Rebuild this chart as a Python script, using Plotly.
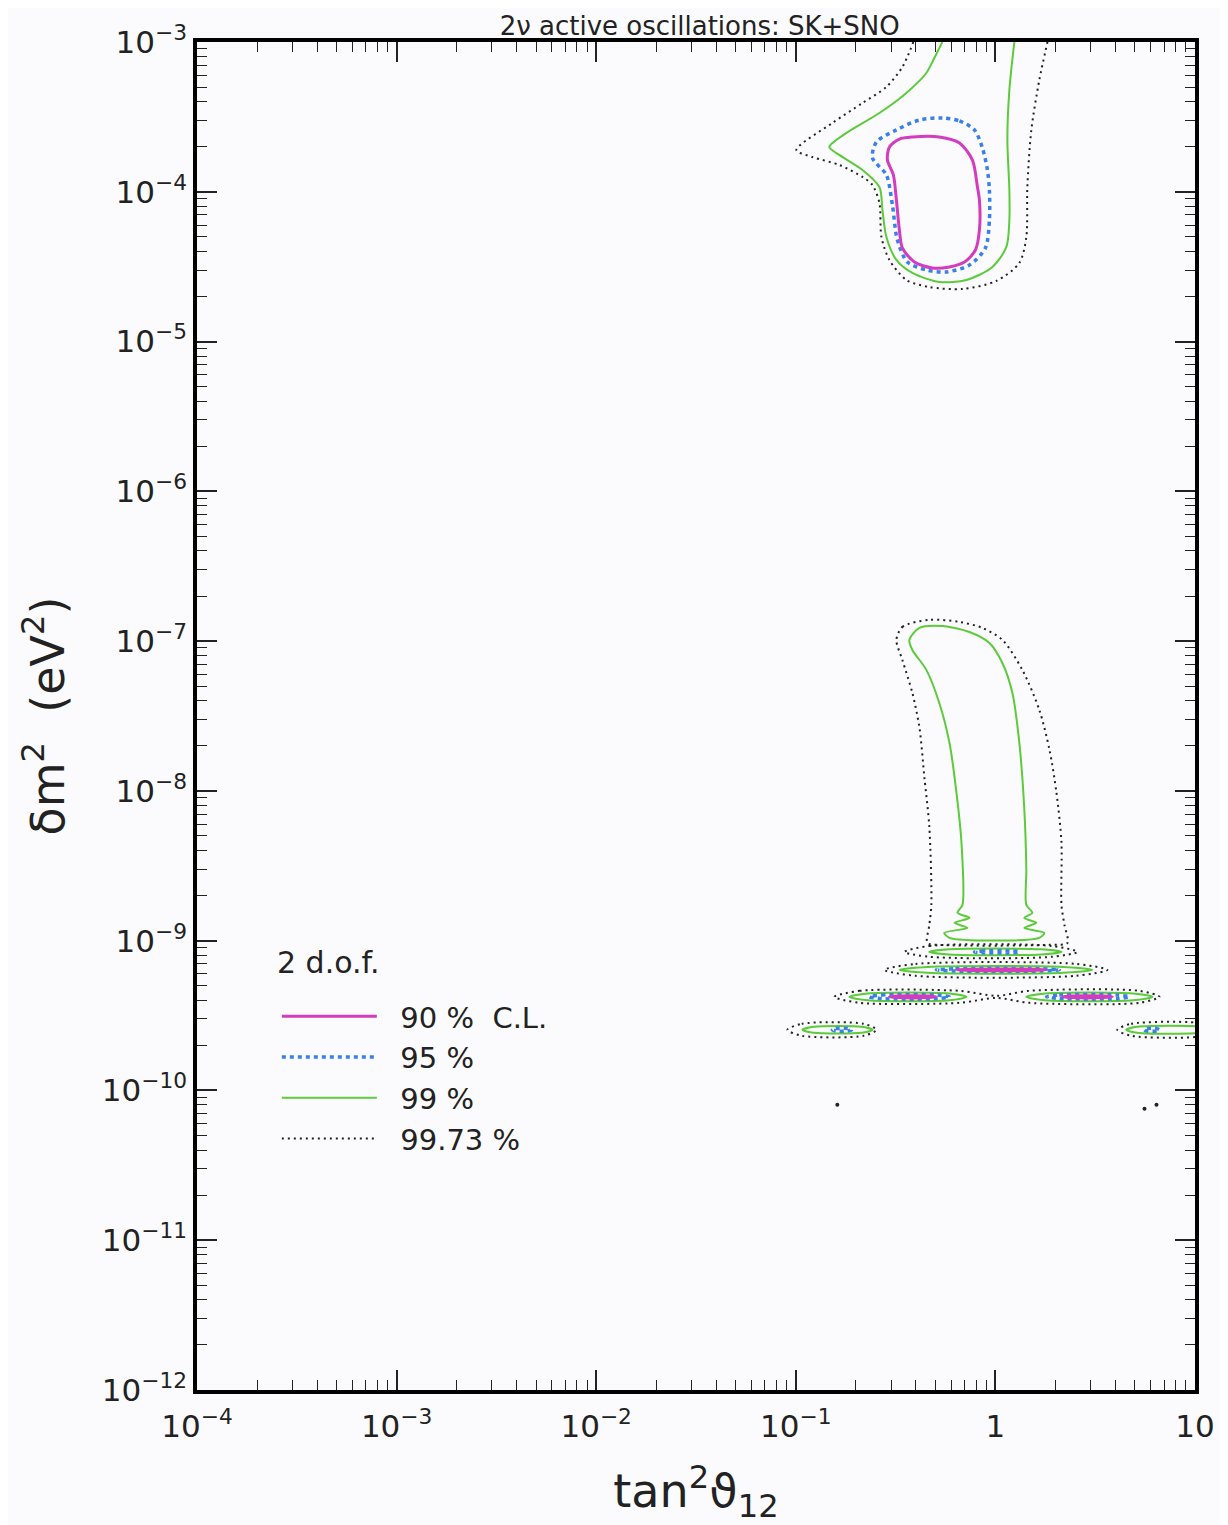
import numpy as np
import plotly.graph_objects as go

# ---------------- data (log10 values) ----------------
# upper (LMA) region
up90_ltan = [-0.281, -0.180, -0.115, -0.090, -0.080, -0.080, -0.100, -0.155, -0.230, -0.316,
             -0.406, -0.466, -0.481, -0.496, -0.511, -0.541, -0.531, -0.481, -0.416, -0.281]
up90_ldm = [-3.634, -3.674, -3.788, -3.968, -4.055, -4.255, -4.389, -4.469, -4.502, -4.509,
            -4.469, -4.375, -4.255, -4.055, -3.888, -3.788, -3.701, -3.648, -3.634, -3.634]

up95_ltan = [-0.266, -0.180, -0.105, -0.065, -0.040, -0.030, -0.030, -0.050, -0.130, -0.245,
             -0.346, -0.441, -0.491, -0.516, -0.546, -0.616, -0.596, -0.496, -0.381, -0.266]
up95_ldm = [-3.507, -3.527, -3.587, -3.708, -3.854, -3.988, -4.188, -4.375, -4.489, -4.535,
            -4.522, -4.469, -4.322, -4.088, -3.888, -3.774, -3.668, -3.587, -3.521, -3.507]

up99_ltan = [-0.266, -0.306, -0.346, -0.446, -0.581, -0.746, -0.832, -0.782, -0.666, -0.581,
             -0.566, -0.546, -0.496, -0.416, -0.281, -0.145, -0.015, 0.055, 0.070, 0.070,
             0.060, 0.070, 0.095]
up99_ldm = [-3.000, -3.107, -3.207, -3.340, -3.474, -3.607, -3.701, -3.754, -3.854, -3.968,
            -4.121, -4.302, -4.455, -4.542, -4.602, -4.589, -4.502, -4.368, -4.188, -3.988,
            -3.654, -3.320, -3.000]

up9973_ltan = [-0.411, -0.466, -0.546, -0.666, -0.817, -0.997, -0.917, -0.782, -0.666, -0.616,
               -0.581, -0.571, -0.531, -0.446, -0.331, -0.165, 0.005, 0.120, 0.155, 0.160,
               0.180, 0.220, 0.261]
up9973_ldm = [-3.000, -3.167, -3.300, -3.407, -3.541, -3.721, -3.768, -3.821, -3.901, -3.955,
              -4.075, -4.302, -4.455, -4.589, -4.636, -4.649, -4.595, -4.475, -4.302, -3.968,
              -3.587, -3.254, -3.000]

# lower (LOW / quasi-vacuum) region, tall contours
low99_ltan = [-0.431, -0.381, -0.266, -0.130, -0.030, 0.035, 0.085, 0.120, 0.145, 0.155,
              0.155, 0.185, 0.145, 0.205, 0.145, 0.245, 0.220, -0.230, -0.256, -0.140,
              -0.205, -0.130, -0.190, -0.165, -0.170, -0.195, -0.230, -0.281, -0.346, -0.416,
              -0.431]
low99_ldm = [-6.992, -6.912, -6.899, -6.939, -7.012, -7.146, -7.346, -7.680, -8.127, -8.527,
             -8.761, -8.814, -8.848, -8.881, -8.915, -8.948, -8.981, -8.981, -8.948, -8.915,
             -8.881, -8.848, -8.814, -8.761, -8.347, -8.013, -7.680, -7.413, -7.192, -7.059,
             -6.992]

low9973_ltan = [-0.496, -0.466, -0.331, -0.180, -0.065, 0.035, 0.135, 0.220, 0.271, 0.306,
                0.331, 0.331, 0.346, 0.361, 0.271, -0.281, -0.341, -0.331, -0.321, -0.331,
                -0.356, -0.381, -0.416, -0.466, -0.496]
low9973_ldm = [-6.992, -6.905, -6.858, -6.872, -6.912, -6.992, -7.192, -7.459, -7.726, -8.013,
               -8.347, -8.761, -8.895, -9.015, -9.028, -9.028, -9.015, -8.895, -8.761, -8.240,
               -7.907, -7.573, -7.346, -7.126, -6.992]

# thin horizontal islands below 1e-9 eV^2: (log tan^2, log dm^2) outlines
bands_90 = [
    ([-0.195, -0.13, 0.19, 0.256, 0.19, -0.13, -0.195],
     [-9.195, -9.191, -9.191, -9.195, -9.199, -9.199, -9.195]),
    ([-0.531, -0.49, -0.34, -0.296, -0.34, -0.49, -0.531],
     [-9.375, -9.370, -9.370, -9.375, -9.380, -9.380, -9.375]),
    ([0.336, 0.38, 0.54, 0.586, 0.54, 0.38, 0.336],
     [-9.375, -9.370, -9.370, -9.375, -9.380, -9.380, -9.375]),
]
bands_95 = [
    ([-0.105, -0.07, 0.085, 0.12, 0.085, -0.07, -0.105],
     [-9.075, -9.069, -9.069, -9.075, -9.081, -9.081, -9.075]),
    ([-0.296, -0.20, 0.22, 0.321, 0.22, -0.20, -0.296],
     [-9.195, -9.187, -9.187, -9.195, -9.203, -9.203, -9.195]),
    ([-0.631, -0.57, -0.29, -0.230, -0.29, -0.57, -0.631],
     [-9.375, -9.363, -9.363, -9.375, -9.387, -9.387, -9.375]),
    ([0.256, 0.32, 0.61, 0.671, 0.61, 0.32, 0.256],
     [-9.375, -9.363, -9.363, -9.375, -9.387, -9.387, -9.375]),
    ([-0.817, -0.80, -0.74, -0.721, -0.74, -0.80, -0.817],
     [-9.595, -9.587, -9.587, -9.595, -9.603, -9.603, -9.595]),
    ([0.747, 0.76, 0.81, 0.822, 0.81, 0.76, 0.747],
     [-9.595, -9.587, -9.587, -9.595, -9.603, -9.603, -9.595]),
]
bands_99 = [
    ([-0.331, -0.23, 0.23, 0.331, 0.23, -0.23, -0.331],
     [-9.075, -9.058, -9.058, -9.075, -9.092, -9.092, -9.075]),
    ([-0.481, -0.34, 0.34, 0.486, 0.34, -0.34, -0.481],
     [-9.195, -9.175, -9.175, -9.195, -9.215, -9.215, -9.195]),
    ([-0.731, -0.64, -0.23, -0.145, -0.23, -0.64, -0.731],
     [-9.375, -9.352, -9.352, -9.375, -9.398, -9.398, -9.375]),
    ([0.155, 0.25, 0.69, 0.787, 0.69, 0.25, 0.155],
     [-9.375, -9.352, -9.352, -9.375, -9.398, -9.398, -9.375]),
    ([-0.967, -0.91, -0.67, -0.616, -0.67, -0.91, -0.967],
     [-9.595, -9.575, -9.575, -9.595, -9.615, -9.615, -9.595]),
    ([0.656, 0.71, 1.03, 1.08, 1.03, 0.71, 0.656],
     [-9.595, -9.575, -9.575, -9.595, -9.615, -9.615, -9.595]),
]
bands_9973 = [
    ([-0.456, -0.33, 0.28, 0.411, 0.28, -0.33, -0.456],
     [-9.075, -9.035, -9.035, -9.075, -9.108, -9.108, -9.075]),
    ([-0.556, -0.40, 0.40, 0.561, 0.40, -0.40, -0.556],
     [-9.195, -9.155, -9.155, -9.195, -9.235, -9.235, -9.195]),
    ([-0.807, -0.68, -0.18, 0.005, 0.17, 0.72, 0.822, 0.72, 0.17, 0.005, -0.18, -0.68, -0.807],
     [-9.375, -9.335, -9.335, -9.368, -9.335, -9.335, -9.375, -9.415, -9.415, -9.382, -9.415, -9.415, -9.375]),
    ([-1.042, -0.97, -0.66, -0.596, -0.66, -0.97, -1.042],
     [-9.595, -9.555, -9.555, -9.595, -9.635, -9.635, -9.595]),
    ([0.611, 0.68, 1.05, 1.10, 1.05, 0.68, 0.611],
     [-9.595, -9.555, -9.555, -9.595, -9.635, -9.635, -9.595]),
]
# tiny isolated 99.73% spots
spots_ltan = [-0.792, 0.747, 0.807]
spots_ldm = [-10.096, -10.123, -10.096]

levels = ["90 %  C.L.", "95 %", "99 %", "99.73 %"]

x_tick_vals = [1e-4, 1e-3, 1e-2, 1e-1, 1, 10]
x_tick_text = ["10<sup>−4</sup>", "10<sup>−3</sup>", "10<sup>−2</sup>", "10<sup>−1</sup>", "1", "10"]
y_tick_vals = [1e-3, 1e-4, 1e-5, 1e-6, 1e-7, 1e-8, 1e-9, 1e-10, 1e-11, 1e-12]
y_tick_text = ["10<sup>−3</sup>", "10<sup>−4</sup>", "10<sup>−5</sup>", "10<sup>−6</sup>",
               "10<sup>−7</sup>", "10<sup>−8</sup>", "10<sup>−9</sup>", "10<sup>−10</sup>",
               "10<sup>−11</sup>", "10<sup>−12</sup>"]

# ---------------- styles ----------------
styles = {
    "90 %  C.L.": dict(color="#d43cbf", width=3, dash="solid"),
    "95 %": dict(color="#3a80e8", width=3.5, dash="4px,4px"),
    "99 %": dict(color="#5ccb3a", width=2, dash="solid"),
    "99.73 %": dict(color="#222222", width=2, dash="2px,4px"),
}
rank = {"90 %  C.L.": 1, "95 %": 2, "99 %": 3, "99.73 %": 4}

paths = {
    "90 %  C.L.": [(up90_ltan, up90_ldm)] + bands_90,
    "95 %": [(up95_ltan, up95_ldm)] + bands_95,
    "99 %": [(up99_ltan, up99_ldm), (low99_ltan, low99_ldm)] + bands_99,
    "99.73 %": [(up9973_ltan, up9973_ldm), (low9973_ltan, low9973_ldm)] + bands_9973,
}

NB = "\u00a0\u00a0"
fig = go.Figure()
# draw outer levels first so inner ones sit on top
for lev in ["99.73 %", "99 %", "95 %", "90 %  C.L."]:
    for i, (lx, ly) in enumerate(paths[lev]):
        fig.add_trace(go.Scatter(
            x=10 ** np.array(lx), y=10 ** np.array(ly), mode="lines",
            line=dict(shape="spline", smoothing=0.8, **styles[lev]),
            name=NB + lev, legendgroup=lev, showlegend=(i == 0),
            legendrank=rank[lev], hoverinfo="skip"))

fig.add_trace(go.Scatter(x=10 ** np.array(spots_ltan), y=10 ** np.array(spots_ldm),
                         mode="markers", marker=dict(color="#222222", size=4),
                         showlegend=False, hoverinfo="skip"))

minor_vals_x = [m * 10.0 ** k for k in range(-4, 1) for m in range(2, 10)]
minor_vals_y = [m * 10.0 ** k for k in range(-12, -3) for m in range(2, 10)]

font_family = "DejaVu Sans, Liberation Sans, sans-serif"
ink = "#222"

axis_common = dict(
    type="log", showline=True, linewidth=3.5, linecolor="black", mirror="ticks",
    ticks="inside", ticklen=20, tickwidth=1.5, tickcolor=ink,
    showgrid=False, zeroline=False, tickmode="array",
    tickfont=dict(family=font_family, size=31, color=ink),
)

fig.update_xaxes(
    range=[-4, 1], tickvals=x_tick_vals, ticktext=x_tick_text, ticklabelstandoff=6,
    minor=dict(tickmode="array", tickvals=minor_vals_x, ticks="inside", ticklen=10,
               tickwidth=1.2, tickcolor=ink, showgrid=False),
    title=dict(text="tan<sup>2</sup>ϑ<sub>12</sub>", font=dict(family=font_family, size=46, color=ink),
               standoff=36),
    **axis_common)
fig.update_yaxes(
    range=[-12, -3], tickvals=y_tick_vals, ticktext=y_tick_text,
    minor=dict(tickmode="array", tickvals=minor_vals_y, ticks="inside", ticklen=10,
               tickwidth=1.2, tickcolor=ink, showgrid=False),
    title=dict(text="δm<sup>2</sup>  (eV<sup>2</sup>)", font=dict(family=font_family, size=46, color=ink),
               standoff=24),
    **axis_common)

fig.update_layout(
    width=1220, height=1517,
    margin=dict(l=189, r=33, t=34, b=135),
    paper_bgcolor="#fbfbfd", plot_bgcolor="#fbfbfd",
    title=dict(text="2ν active oscillations: SK+SNO", x=0.567, xanchor="center",
               xref="container", yref="container", y=0.9885, yanchor="middle",
               pad=dict(t=0, b=0),
               font=dict(family=font_family, size=26, color=ink)),
    annotations=[dict(text="2 d.o.f.", xref="paper", yref="paper", x=0.078, y=0.317,
                      xanchor="left", yanchor="middle", showarrow=False,
                      font=dict(family=font_family, size=30, color=ink))],
    legend=dict(
        x=0.080, y=0.296, xanchor="left", yanchor="top",
        bgcolor="rgba(0,0,0,0)", borderwidth=0,
        font=dict(family=font_family, size=29, color=ink),
        itemwidth=95, tracegroupgap=5, traceorder="normal",
    ),
)

fig.write_html("out.html")
